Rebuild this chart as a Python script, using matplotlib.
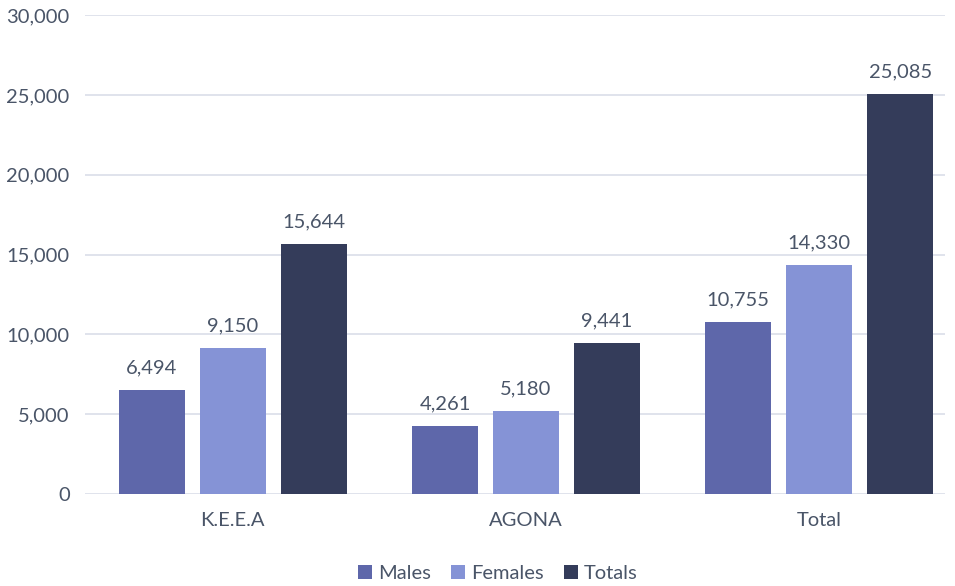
import matplotlib.pyplot as plt
import numpy as np
from matplotlib.ticker import FuncFormatter

plt.rcParams['font.family'] = ['Lato', 'DejaVu Sans']

# data
categories = ['K.E.E.A', 'AGONA', 'Total']
males = [6494, 4261, 10755]
females = [9150, 5180, 14330]
totals = [15644, 9441, 25085]
series_names = ['Males', 'Females', 'Totals']
colors = ['#5E67AA', '#8593D6', '#343C5A']
text_color = '#4A5568'

fig = plt.figure(figsize=(9.55, 5.86), dpi=100)
ax = fig.add_axes([0.089, 0.157, 0.901, 0.817])

x = np.arange(len(categories))
width = 0.225
pitch = 0.276

for i, (vals, name, c) in enumerate(zip([males, females, totals], series_names, colors)):
    pos = x + (i - 1) * pitch
    bars = ax.bar(pos, vals, width, color=c, label=name, zorder=3)
    for b, v in zip(bars, vals):
        ax.text(b.get_x() + b.get_width() / 2, v + 850, f'{v:,}',
                ha='center', va='bottom', fontsize=14.5, color=text_color)

ax.set_ylim(0, 30000)
ax.set_xlim(-0.503, 2.43)
ax.set_yticks(np.arange(0, 30001, 5000))
ax.yaxis.set_major_formatter(FuncFormatter(lambda v, p: f'{int(v):,}'))
ax.set_xticks(x)
ax.set_xticklabels(categories)
ax.tick_params(axis='both', length=0, labelsize=14.5, colors=text_color)
ax.tick_params(axis='y', pad=11)
ax.tick_params(axis='x', pad=13)

ax.grid(axis='y', color='#DDE1EA', linewidth=1.3, zorder=0)
for s in ax.spines.values():
    s.set_visible(False)

ax.legend(loc='upper center', bbox_to_anchor=(0.48, -0.11), ncol=3, frameon=False,
          fontsize=14.5, labelcolor=text_color, handlelength=0.7, handleheight=0.7,
          handletextpad=0.3, columnspacing=1.0)

fig.savefig('out.png', dpi=100)
